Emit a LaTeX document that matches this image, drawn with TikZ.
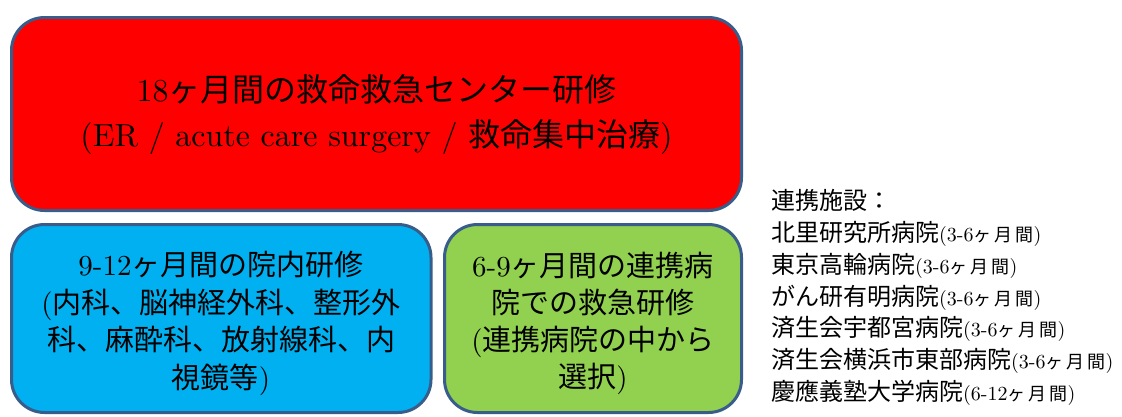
\documentclass[tikz,border=0pt]{standalone}
\usepackage{fontspec}
\setmainfont{lmroman10-regular}[Extension=.otf]
\newfontfamily\cjk{Noto Sans CJK JP}
\newcommand\J[1]{{\cjk #1}}
\newcommand\per[1]{{\fontsize{20pt}{20pt}\selectfont(#1\J{\fontsize{18pt}{18pt}\selectfont ヶ\kern3pt 月\kern3pt 間})}}
\definecolor{bord}{HTML}{385D8A}
\definecolor{erred}{HTML}{FF0000}
\definecolor{inblue}{HTML}{00B0F0}
\definecolor{exgreen}{HTML}{92D050}
\begin{document}
\begin{tikzpicture}[x=1pt,y=-1pt,
  box/.style={draw=bord, line width=3pt, rounded corners=33pt, inner sep=0pt},
  txt/.style={align=center, inner sep=0pt, text=black},
  listtxt/.style={align=left, inner sep=0pt, anchor=west, text=black,
    font=\fontsize{24pt}{31.8pt}\selectfont}]
\useasboundingbox (0,0) rectangle (1122,416);
\node[box, fill=erred, minimum width=730pt, minimum height=193pt] (er) at (376.5,114) {};
\node[box, fill=inblue, minimum width=419.5pt, minimum height=188pt] (inhouse) at (221.25,318.5) {};
\node[box, fill=exgreen, minimum width=297pt, minimum height=188pt] (partner) at (593,318.5) {};
\node[txt, font=\fontsize{32pt}{45pt}\selectfont] (ertxt) at (376.5,114.5)
  {18\J{ヶ月間の救命救急センター研修}\\(ER / acute care surgery / \J{救命集中治療})};
\node[txt, font=\fontsize{29pt}{37.7pt}\selectfont] (intxt) at (221,323.5)
  {9-12\J{ヶ月間の院内研修}\\(\J{内科、脳神経外科、整形外}\\\J{科、麻酔科、放射線科、内}\\\J{視鏡等})};
\node[txt, font=\fontsize{29pt}{37pt}\selectfont] (extxt) at (593,323)
  {6-9\J{ヶ月間の連携病}\\\J{院での救急研修}\\(\J{連携病院の中から}\\\J{選択})};
\node[listtxt] (list) at (771,297.5)
  {\J{連携施設：}\\
   \J{北里研究所病院}\per{3-6}\\
   \J{東京高輪病院}\per{3-6}\\
   \J{がん研有明病院}\per{3-6}\\
   \J{済生会宇都宮病院}\per{3-6}\\
   \J{済生会横浜市東部病院}\per{3-6}\\
   \J{慶應義塾大学病院}\per{6-12}};
\end{tikzpicture}
\end{document}
